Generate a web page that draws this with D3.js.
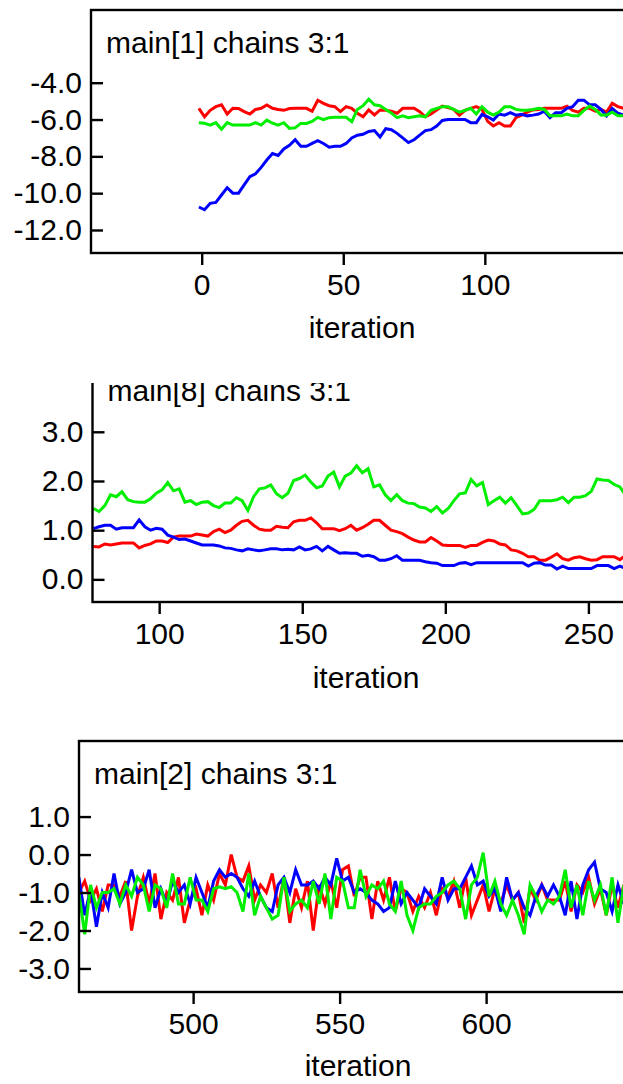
<!DOCTYPE html>
<html>
<head>
<meta charset="utf-8">
<script src="https://cdn.jsdelivr.net/npm/d3@7"></script>
<style>
  body { margin: 0; background: #fff; overflow: hidden; }
  svg text { font-family: "Liberation Sans", Arial, sans-serif; fill: #000; }
</style>
</head>
<body>
<svg id="chart" width="623" height="1084"></svg>
<script>
// ---- data: trace values, one entry every `step` iterations from `start` ----
var p1Title = "main[1] chains 3:1";
var p1Start = -1, p1Step = 2;
var p1Red = [-5.39,-5.85,-5.5,-5.3,-5.2,-5.7,-5.39,-5.4,-5.57,-5.7,-5.45,-5.39,-5.21,-5.39,-5.45,-5.5,-5.4,-5.39,-5.39,-5.39,-5.55,-4.95,-5.12,-5.25,-5.3,-5.57,-5.3,-5.39,-5.66,-5.85,-5.48,-5.75,-5.48,-5.5,-5.55,-5.66,-5.39,-5.39,-5.39,-5.57,-5.85,-5.7,-5.48,-5.27,-5.35,-5.45,-5.76,-5.5,-5.39,-5.3,-5.45,-6.1,-6.35,-6.17,-6.35,-6.35,-5.9,-5.76,-5.6,-5.48,-5.45,-5.39,-5.39,-5.39,-5.39,-5.27,-5.5,-5.6,-5.39,-5.39,-5.55,-5.45,-5.6,-5.12,-5.3,-5.39];
var p1Blue = [-10.75,-10.9,-10.55,-10.5,-10.1,-9.7,-10.0,-10.0,-9.55,-9.1,-8.95,-8.6,-8.2,-7.85,-7.95,-7.6,-7.4,-7.1,-7.45,-7.45,-7.3,-7.15,-7.3,-7.5,-7.45,-7.45,-7.3,-7.0,-6.85,-6.8,-6.65,-6.6,-6.95,-6.5,-6.55,-6.75,-7.0,-7.25,-7.1,-6.85,-6.6,-6.55,-6.35,-6.05,-6.0,-6.0,-6.0,-6.0,-6.17,-6.17,-5.72,-5.85,-6.03,-5.7,-5.76,-5.63,-5.76,-5.72,-5.8,-5.76,-5.7,-5.55,-5.9,-5.63,-5.63,-5.39,-5.3,-4.95,-4.95,-5.2,-5.2,-5.45,-5.8,-5.4,-5.66,-5.76];
var p1Green = [-6.17,-6.2,-6.3,-6.17,-6.53,-6.17,-6.3,-6.3,-6.3,-6.3,-6.17,-6.3,-6.03,-6.2,-6.3,-6.17,-6.48,-6.45,-6.21,-6.21,-6.1,-5.88,-6.0,-5.9,-5.88,-5.88,-5.88,-6.12,-5.45,-5.25,-4.9,-5.2,-5.25,-5.45,-5.65,-5.9,-5.8,-5.9,-5.85,-5.8,-5.85,-5.5,-5.39,-5.3,-5.3,-5.45,-5.6,-5.5,-5.39,-5.7,-5.3,-5.6,-5.76,-5.6,-5.3,-5.3,-5.45,-5.5,-5.5,-5.45,-5.39,-5.45,-5.8,-5.8,-5.8,-5.7,-5.8,-5.8,-5.5,-5.27,-5.45,-5.75,-5.76,-5.6,-5.8,-5.8];
var p1YTicks = [-12, -10, -8, -6, -4];
var p1XTicks = [0, 50, 100];

var p2Title = "main[8] chains 3:1";
var p2Start = 77, p2Step = 2;
var p2Red = [0.67,0.66,0.72,0.7,0.72,0.74,0.74,0.74,0.64,0.69,0.72,0.78,0.78,0.75,0.86,0.88,0.88,0.88,0.92,0.9,0.88,0.97,1.02,0.95,1.0,1.1,1.18,1.2,1.1,1.02,1.0,1.0,1.08,1.06,1.05,1.17,1.2,1.2,1.25,1.15,1.03,1.03,1.03,0.99,1.03,1.1,1.0,1.05,1.12,1.2,1.2,1.1,1.0,0.97,0.93,0.86,0.8,0.76,0.76,0.85,0.78,0.7,0.69,0.69,0.69,0.65,0.69,0.69,0.75,0.8,0.78,0.72,0.7,0.6,0.58,0.53,0.46,0.46,0.39,0.39,0.45,0.52,0.42,0.39,0.44,0.46,0.42,0.39,0.4,0.46,0.46,0.46,0.4,0.49];
var p2Blue = [1.03,1.07,1.1,1.1,1.02,1.05,1.05,1.05,1.21,1.07,1.0,1.04,1.02,0.9,0.86,0.81,0.82,0.78,0.74,0.7,0.7,0.7,0.68,0.64,0.63,0.6,0.58,0.62,0.6,0.58,0.6,0.62,0.62,0.6,0.61,0.6,0.66,0.6,0.62,0.67,0.58,0.67,0.6,0.53,0.54,0.53,0.53,0.47,0.49,0.46,0.39,0.39,0.42,0.48,0.39,0.39,0.39,0.39,0.36,0.34,0.33,0.28,0.28,0.28,0.33,0.34,0.3,0.34,0.34,0.34,0.34,0.34,0.34,0.34,0.34,0.34,0.27,0.33,0.34,0.29,0.29,0.21,0.27,0.22,0.22,0.22,0.22,0.22,0.28,0.28,0.28,0.22,0.27,0.22];
var p2Green = [1.44,1.38,1.5,1.72,1.68,1.78,1.62,1.58,1.57,1.57,1.64,1.75,1.82,1.97,1.8,1.84,1.57,1.6,1.52,1.57,1.58,1.5,1.46,1.55,1.55,1.66,1.6,1.4,1.68,1.84,1.86,1.92,1.74,1.66,1.75,2.01,2.05,2.12,1.98,1.86,1.9,2.1,2.18,1.88,2.1,2.16,2.31,2.17,2.25,1.88,1.92,1.72,1.6,1.72,1.6,1.55,1.54,1.47,1.45,1.38,1.48,1.35,1.44,1.6,1.74,1.76,2.03,1.9,1.97,1.52,1.6,1.67,1.55,1.66,1.5,1.33,1.35,1.42,1.6,1.6,1.6,1.62,1.67,1.56,1.67,1.67,1.7,1.79,2.04,2.02,2.01,1.93,1.88,1.71];
var p2YTicks = [0, 1, 2, 3];
var p2XTicks = [100, 150, 200, 250];

var p3Title = "main[2] chains 3:1";
var p3Start = 461, p3Step = 2;
var p3Red = [-1.0,-0.7,-1.2,-0.9,-1.5,-0.8,-0.8,-1.1,-0.7,-2.0,-1.1,-0.6,-1.3,-0.5,-1.7,-1.0,-1.2,-0.6,-1.8,-1.2,-0.9,-1.6,-0.8,-1.2,-0.5,-0.8,0.0,-0.6,-0.7,-0.3,-1.2,-0.8,-1.0,-0.5,-1.4,-0.6,-1.8,-0.9,-1.4,-0.7,-2.0,-0.8,-1.3,-0.7,-1.4,-0.4,-0.3,-1.1,-0.6,-0.6,-1.7,-0.7,-1.2,-0.6,-1.5,-0.9,-1.0,-1.5,-1.1,-1.4,-1.0,-1.6,-0.9,-1.1,-0.7,-1.4,-0.6,-1.6,-1.2,-0.8,-1.5,-0.9,-1.3,-0.8,-1.2,-1.0,-1.8,-0.9,-1.2,-0.8,-1.2,-1.2,-1.2,-0.7,-1.5,-0.8,-1.0,-0.6,-1.3,-0.9,-1.6,-0.8,-1.4,-0.8];
var p3Blue = [-0.6,-1.6,-0.9,-1.9,-1.0,-1.4,-0.5,-1.3,-1.0,-0.4,-1.0,-0.9,-0.4,-1.4,-0.9,-1.3,-0.7,-1.0,-0.8,-1.3,-0.6,-1.0,-1.4,-0.7,-0.4,-0.6,-0.5,-0.6,-0.9,-1.1,-0.7,-1.1,-1.4,-1.5,-0.8,-0.6,-1.0,-0.4,-0.8,-0.8,-0.7,-0.9,-0.6,-0.8,-0.1,-0.7,-0.6,-1.0,-0.9,-1.0,-1.2,-1.3,-1.5,-1.4,-0.7,-1.3,-1.0,-1.2,-1.4,-0.9,-1.1,-1.3,-0.6,-1.2,-0.9,-0.9,-0.6,-0.3,-0.8,-0.7,-1.1,-0.9,-1.5,-0.6,-1.2,-1.0,-1.4,-1.6,-1.1,-0.8,-1.1,-0.8,-1.1,-1.6,-0.7,-1.7,-0.8,-0.4,-0.2,-0.9,-1.0,-1.5,-0.8,-1.3];
var p3Green = [-1.0,-2.1,-0.8,-1.4,-1.0,-1.0,-0.9,-1.3,-0.8,-1.1,-0.6,-0.8,-1.5,-0.8,-0.9,-1.4,-0.5,-1.3,-1.3,-0.6,-1.2,-1.2,-1.5,-0.9,-0.85,-0.9,-0.85,-1.0,-1.5,-0.5,-1.6,-1.1,-1.4,-1.7,-1.6,-0.6,-1.5,-1.3,-1.2,-1.4,-0.7,-1.3,-0.5,-1.7,-0.6,-0.7,-1.4,-1.4,-0.4,-1.1,-0.8,-0.9,-0.7,-1.3,-1.5,-0.7,-1.6,-2.0,-1.4,-1.3,-1.3,-1.1,-1.0,-0.8,-0.7,-0.9,-1.7,-0.8,-0.6,0.05,-1.1,-0.7,-1.3,-1.6,-1.2,-1.6,-2.1,-0.8,-1.1,-1.5,-1.2,-1.3,-1.1,-0.4,-1.4,-0.8,-1.6,-0.7,-1.2,-0.8,-1.6,-0.6,-1.8,-0.8];
var p3YTicks = [-3, -2, -1, 0, 1];
var p3XTicks = [500, 550, 600];

var xLabel = "iteration";
var chainColors = ["#ff0000", "#0000ff", "#00ee00"];

// ---- layout of the three panels ----
var panels = [
  { title: p1Title, start: p1Start, step: p1Step, series: [p1Red, p1Blue, p1Green],
    yTicks: p1YTicks, xTicks: p1XTicks,
    left: 91, top: 10, bottom: 253, xDom: [-39.1, 176], yDom: [-13.25, -0.05],
    labelX: 362, labelY: 338, clipTop: 0 },
  { title: p2Title, start: p2Start, step: p2Step, series: [p2Red, p2Blue, p2Green],
    yTicks: p2YTicks, xTicks: p2XTicks,
    left: 92.5, top: 358, bottom: 602, xDom: [76.7, 289], yDom: [-0.46, 4.5],
    labelX: 366, labelY: 688, clipTop: 383 },
  { title: p3Title, start: p3Start, step: p3Step, series: [p3Red, p3Blue, p3Green],
    yTicks: p3YTicks, xTicks: p3XTicks,
    left: 79, top: 741, bottom: 992, xDom: [461.05, 673], yDom: [-3.62, 2.99],
    labelX: 358, labelY: 1076, clipTop: 700 }
];
var frameRight = 700;

var svg = d3.select("#chart");
var defs = svg.append("defs");

panels.forEach(function(p, k) {
  var x = d3.scaleLinear().domain(p.xDom).range([p.left, frameRight]);
  var y = d3.scaleLinear().domain(p.yDom).range([p.bottom, p.top]);

  // whole panel clipped (panel 2 has its top cut off in the original)
  defs.append("clipPath").attr("id", "pc" + k)
    .append("rect").attr("x", 0).attr("y", p.clipTop).attr("width", 623).attr("height", 1084 - p.clipTop);
  defs.append("clipPath").attr("id", "plot" + k)
    .append("rect").attr("x", p.left).attr("y", p.top)
    .attr("width", frameRight - p.left).attr("height", p.bottom - p.top);

  var g = svg.append("g").attr("clip-path", "url(#pc" + k + ")");

  // traces
  var line = d3.line()
    .x(function(d, i) { return x(p.start + i * p.step); })
    .y(function(d) { return y(d); });
  g.append("g").attr("clip-path", "url(#plot" + k + ")")
    .selectAll("path").data(p.series).enter().append("path")
    .attr("d", line)
    .attr("fill", "none")
    .attr("stroke", function(d, i) { return chainColors[i]; })
    .attr("stroke-width", 3)
    .attr("stroke-linejoin", "miter");

  // frame
  g.append("rect")
    .attr("x", p.left).attr("y", p.top)
    .attr("width", frameRight - p.left).attr("height", p.bottom - p.top)
    .attr("fill", "none").attr("stroke", "#000").attr("stroke-width", 2.4);

  // y axis: ticks inside, labels outside
  var ya = g.append("g").attr("transform", "translate(" + p.left + ",0)")
    .call(d3.axisLeft(y).tickValues(p.yTicks).tickSize(-12).tickPadding(9)
      .tickFormat(function(d) { return d.toFixed(1); }));
  ya.select(".domain").remove();
  ya.selectAll("line").attr("stroke", "#000").attr("stroke-width", 2.4);
  ya.selectAll("text").style("font-size", "30px").attr("fill", "#000");

  // x axis: ticks below frame
  var xa = g.append("g").attr("transform", "translate(0," + p.bottom + ")")
    .call(d3.axisBottom(x).tickValues(p.xTicks).tickSize(12).tickPadding(9)
      .tickFormat(d3.format("d")));
  xa.select(".domain").remove();
  xa.selectAll("line").attr("stroke", "#000").attr("stroke-width", 2.4);
  xa.selectAll("text").style("font-size", "30px").attr("fill", "#000");

  g.append("text")
    .attr("x", p.left + 15).attr("y", p.top + 43)
    .style("font-size", "30px")
    .text(p.title);

  g.append("text")
    .attr("x", p.labelX).attr("y", p.labelY)
    .attr("text-anchor", "middle")
    .style("font-size", "30px")
    .text(xLabel);
});
</script>
</body>
</html>
